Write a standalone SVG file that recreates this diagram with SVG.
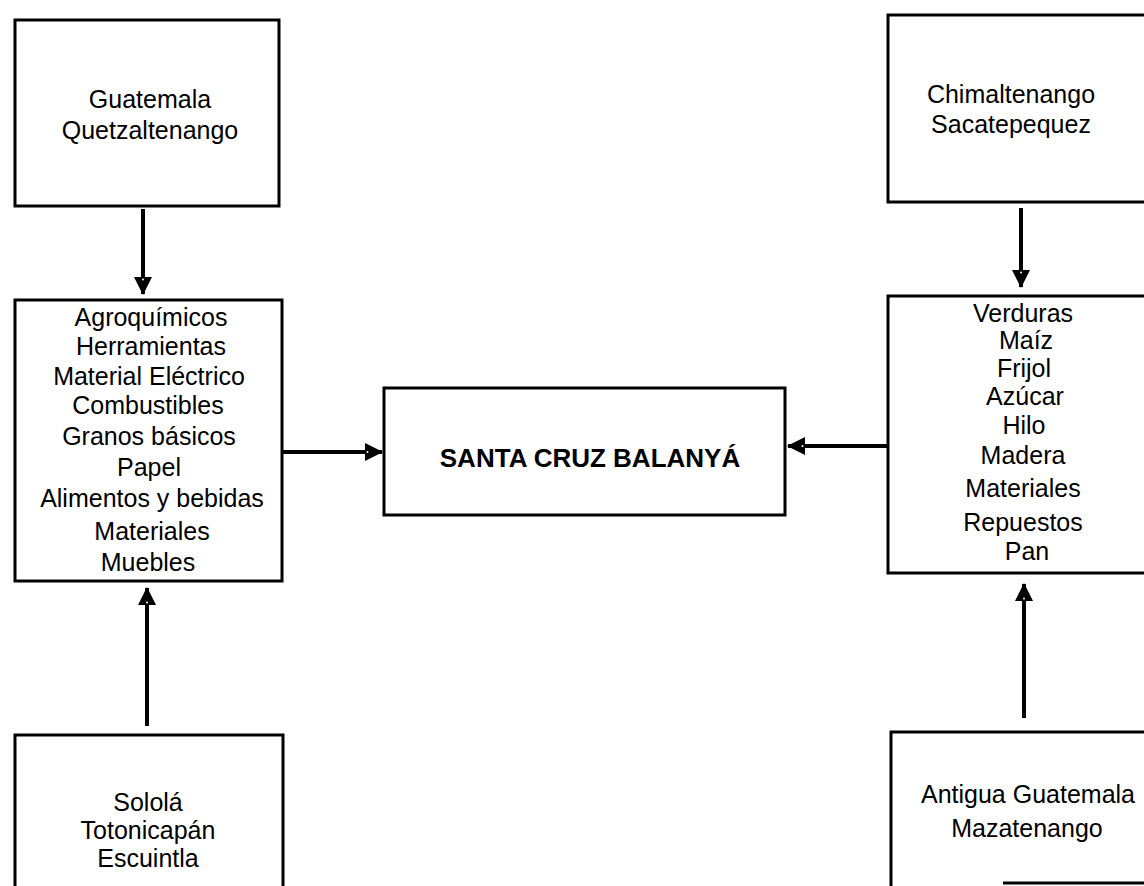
<svg xmlns="http://www.w3.org/2000/svg" width="1144" height="886" viewBox="0 0 1144 886">
<style>
.box{fill:#fff;stroke:#000;stroke-width:3}
.edge{fill:none;stroke:#000;stroke-width:3}
.t{font-family:"Liberation Sans",Arial,sans-serif;font-size:25px;fill:#000;text-anchor:middle}
.tb{font-family:"Liberation Sans",Arial,sans-serif;font-size:26px;font-weight:bold;fill:#000;text-anchor:middle}
.c{fill:none;stroke:#000;stroke-width:4;marker-end:url(#ah)}
</style>
<defs>
<marker id="ah" markerUnits="userSpaceOnUse" viewBox="0 0 18 18" refX="17" refY="9" markerWidth="18" markerHeight="18" orient="auto">
<path d="M0,0 L18,9 L0,18 Z" fill="#000"/>
<circle cx="2.5" cy="9" r="1" fill="#fff"/>
</marker>
</defs>
<rect width="1144" height="886" fill="#fff"/>
<g id="connectors">
<path class="c" d="M143,209 L143,294"/>
<path class="c" d="M147,726 L147,588"/>
<path class="c" d="M283,452 L382,452"/>
<path class="c" d="M887,446 L788,446"/>
<path class="c" d="M1021,208 L1021,287"/>
<path class="c" d="M1024,718 L1024,584"/>
</g>
<g id="n-guatemala">
<rect class="box" x="15" y="20" width="264" height="186"/>
<text class="t" x="150" y="108">Guatemala</text>
<text class="t" x="150" y="139">Quetzaltenango</text>
</g>
<g id="n-chimaltenango">
<rect class="box" x="888" y="15" width="280" height="187"/>
<text class="t" x="1011" y="103">Chimaltenango</text>
<text class="t" x="1011" y="133">Sacatepequez</text>
</g>
<g id="n-productos-izq">
<rect class="box" x="15" y="300" width="267" height="281"/>
<text class="t" x="151" y="326">Agroquímicos</text>
<text class="t" x="151" y="355">Herramientas</text>
<text class="t" x="149" y="385">Material Eléctrico</text>
<text class="t" x="148" y="414">Combustibles</text>
<text class="t" x="149" y="445">Granos básicos</text>
<text class="t" x="149" y="476">Papel</text>
<text class="t" x="152" y="507">Alimentos y bebidas</text>
<text class="t" x="152" y="540">Materiales</text>
<text class="t" x="148" y="571">Muebles</text>
</g>
<g id="n-santa-cruz">
<rect class="box" x="384" y="388" width="401" height="127"/>
<text class="tb" x="590" y="467">SANTA CRUZ BALANYÁ</text>
</g>
<g id="n-productos-der">
<rect class="box" x="888" y="296" width="280" height="277"/>
<text class="t" x="1023" y="322">Verduras</text>
<text class="t" x="1026" y="349">Maíz</text>
<text class="t" x="1024" y="377">Frijol</text>
<text class="t" x="1025" y="405">Azúcar</text>
<text class="t" x="1024" y="434">Hilo</text>
<text class="t" x="1023" y="464">Madera</text>
<text class="t" x="1023" y="497">Materiales</text>
<text class="t" x="1023" y="531">Repuestos</text>
<text class="t" x="1027" y="560">Pan</text>
</g>
<g id="n-solola">
<rect class="box" x="15" y="735" width="268" height="170"/>
<text class="t" x="148" y="811">Sololá</text>
<text class="t" x="148" y="839">Totonicapán</text>
<text class="t" x="148" y="867">Escuintla</text>
</g>
<g id="n-antigua">
<path class="edge" d="M891,890 L891,732 L1150,732"/>
<path class="edge" d="M1003,883 L1150,883"/>
<text class="t" x="1028" y="803">Antigua Guatemala</text>
<text class="t" x="1027" y="837">Mazatenango</text>
</g>
</svg>
